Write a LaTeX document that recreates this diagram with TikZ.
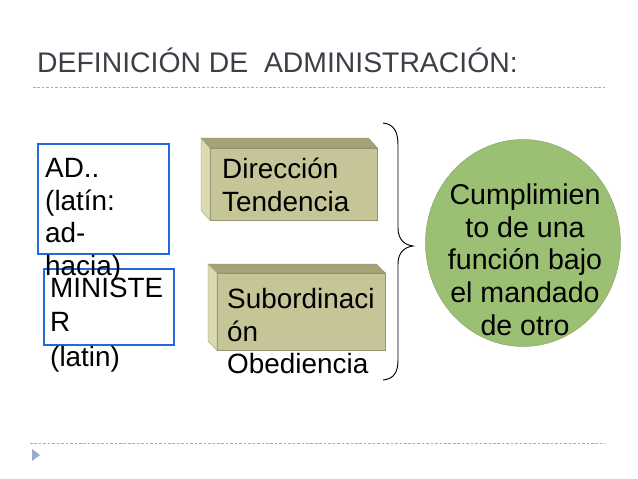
\documentclass[tikz,border=0pt]{standalone}
\usepackage{fontspec}
\setmainfont{Liberation Sans}
\usepackage{tikz}
\usetikzlibrary{shapes.geometric}
\definecolor{title_grey}{RGB}{62,62,72}
\definecolor{rule_grey}{RGB}{158,174,192}
\definecolor{frame_blue}{RGB}{36,106,214}
\definecolor{cube_front}{RGB}{197,197,152}
\definecolor{cube_top}{RGB}{163,163,120}
\definecolor{cube_side}{RGB}{218,218,176}
\definecolor{ball_green}{RGB}{156,192,115}
\definecolor{bullet_blue}{RGB}{150,172,200}
\tikzstyle{dotrule}=[draw=rule_grey, line width=0.7pt, dash pattern=on 2.2pt off 1.6pt]
\tikzstyle{blueframe}=[rectangle, draw=frame_blue, line width=1.7pt,
  anchor=north west, inner sep=0pt]
\tikzstyle{cubefront}=[rectangle, fill=cube_front, draw=cube_front!75!black,
  line width=0.3pt, anchor=north west, inner sep=0pt]
\tikzstyle{cubetop}=[fill=cube_top, draw=cube_top!80!black, line width=0.3pt]
\tikzstyle{cubeside}=[fill=cube_side, draw=cube_side!70!black, line width=0.3pt]
\tikzstyle{greenball}=[ellipse, fill=ball_green, draw=ball_green!85!black,
  line width=0.4pt, inner sep=0pt]
\tikzstyle{txt}=[anchor=north west, inner sep=0pt, align=left,
  font=\fontsize{23.8}{28}\selectfont]
\begin{document}
\begin{tikzpicture}[x=0.03cm, y=-0.03cm]
    \useasboundingbox (0,0) rectangle (638,479);
    % title and rules
    \node [anchor=base west, inner sep=0pt, text=title_grey,
      font=\fontsize{24.2}{28}\selectfont] (title) at (37,72) {DEFINICIÓN DE\ \ ADMINISTRACIÓN:};
    \draw [dotrule] (33,87) -- (605,87);
    \draw [dotrule] (30,443) -- (605,443);
    \fill [bullet_blue] (32,449) -- (40,455) -- (32,461) -- cycle;
    % left frames
    \node [style=blueframe, minimum width=3.93cm, minimum height=3.3cm] (adbox) at (37,143) {};
    \node [style=blueframe, minimum width=3.9cm, minimum height=2.28cm] (minbox) at (43,268) {};
    \node [style=txt] (adtxt) at (45,154) {\strut AD..\\(latín:\\ad-\\hacia)};
    \node [style=txt, font=\fontsize{23.8}{29.5}\selectfont] (mintxt) at (50,273) {\strut MINISTE\\R\\(latin)};
    % blocks
    \node [style=cubefront, minimum width=5.01cm, minimum height=2.16cm] (dirfront) at (210,148) {};
    \filldraw [style=cubetop] (dirfront.north west) -- (dirfront.north east) -- ++(-9,-10)
      -- ([shift={(-9,-10)}]dirfront.north west) -- cycle;
    \filldraw [style=cubeside] (dirfront.north west) -- (dirfront.south west) -- ++(-9,-10)
      -- ([shift={(-9,-10)}]dirfront.north west) -- cycle;
    \node [style=cubefront, minimum width=5.04cm, minimum height=2.31cm] (subfront) at (217,273) {};
    \filldraw [style=cubetop] (subfront.north west) -- (subfront.north east) -- ++(-9,-9)
      -- ([shift={(-9,-9)}]subfront.north west) -- cycle;
    \filldraw [style=cubeside] (subfront.north west) -- (subfront.south west) -- ++(-9,-9)
      -- ([shift={(-9,-9)}]subfront.north west) -- cycle;
    \node [style=txt] (dirtxt) at (222,155) {\strut Dirección\\Tendencia};
    \node [style=txt, font=\fontsize{23.8}{27.5}\selectfont] (subtxt) at (227,286) {\strut Subordinaci\\ón\\Obediencia};
    % brace
    \draw [line width=0.8pt] (383,123) .. controls (394,124) and (398,132) .. (398,145)
      -- (398,228) .. controls (398,240) and (405,245) .. (413,246)
      .. controls (405,247) and (398,252) .. (398,264)
      -- (398,360) .. controls (398,372) and (394,379) .. (383,380);
    % result
    \node [style=greenball, minimum width=5.85cm, minimum height=6.21cm] (ball) at (523,243) {};
    \node [style=txt, anchor=north, align=center, font=\fontsize{24.4}{28}\selectfont] (balltxt)
      at (525,181) {\strut Cumplimien\\to de una\\función bajo\\el mandado\\de otro};
\end{tikzpicture}
\end{document}
